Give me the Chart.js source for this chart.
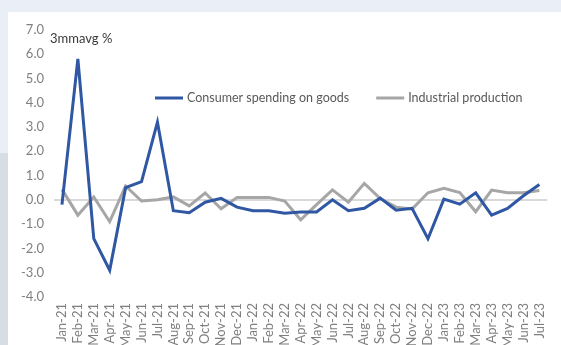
<!DOCTYPE html>
<html>
<head>
<meta charset="utf-8">
<script src="https://cdn.jsdelivr.net/npm/chart.js@4"></script>
<style>
  html, body { margin: 0; padding: 0; overflow: hidden; }
  body { width: 561px; height: 345px; background: #e9eef7; position: relative; }
  #side { position: absolute; left: 0; top: 153px; width: 8px; height: 192px; background: #d6dde5; }
  #card { position: absolute; left: 8px; top: 12px; width: 553px; height: 345px; background: #fff; }
</style>
</head>
<body>
<div id="side"></div>
<div id="card"><canvas id="grafico" width="553" height="345"></canvas></div>
<script>
// Meses (Jan-21 a Jul-23)
const meses = ['Jan-21', 'Feb-21', 'Mar-21', 'Apr-21', 'May-21', 'Jun-21', 'Jul-21', 'Aug-21', 'Sep-21', 'Oct-21', 'Nov-21', 'Dec-21',
    'Jan-22', 'Feb-22', 'Mar-22', 'Apr-22', 'May-22', 'Jun-22', 'Jul-22', 'Aug-22', 'Sep-22', 'Oct-22', 'Nov-22', 'Dec-22',
    'Jan-23', 'Feb-23', 'Mar-23', 'Apr-23', 'May-23', 'Jun-23', 'Jul-23'];

// Media movel de 3 meses, %
const consumo = [-0.2, 5.8, -1.6, -2.9, 0.5, 0.75, 3.2, -0.45, -0.53, -0.1, 0.06, -0.3,
    -0.45, -0.45, -0.55, -0.5, -0.5, 0.0, -0.45, -0.35, 0.07, -0.43, -0.35, -1.6,
    0.03, -0.18, 0.29, -0.63, -0.35, 0.17, 0.63];

const industria = [0.43, -0.63, 0.12, -0.9, 0.57, -0.05, 0.0, 0.12, -0.25, 0.28, -0.37, 0.1,
    0.1, 0.1, -0.05, -0.82, -0.2, 0.41, -0.1, 0.68, 0.05, -0.3, -0.38, 0.29,
    0.47, 0.3, -0.49, 0.4, 0.29, 0.29, 0.38];

const ticksY = [-4, -3, -2, -1, 0, 1, 2, 3, 4, 5, 6, 7];

const fonte = 'Lato, "Open Sans", sans-serif';

// Legenda e titulo desenhados dentro da area do grafico
const legendaInterna = {
    id: 'legendaInterna',
    afterDraw(chart) {
        const ctx = chart.ctx;
        ctx.save();
        ctx.textBaseline = 'middle';
        ctx.textAlign = 'left';

        ctx.font = '13px ' + fonte;
        ctx.fillStyle = '#3a3a3a';
        ctx.fillText('3mmavg %', 42, 27);

        ctx.font = '12.5px ' + fonte;
        let x = 147;
        const y = 86;
        chart.data.datasets.forEach(ds => {
            ctx.strokeStyle = ds.borderColor;
            ctx.lineWidth = 3;
            ctx.beginPath();
            ctx.moveTo(x, y);
            ctx.lineTo(x + 28, y);
            ctx.stroke();
            ctx.fillStyle = '#595959';
            ctx.fillText(ds.label, x + 32, y);
            x += 32 + ctx.measureText(ds.label).width + 27;
        });
        ctx.restore();
    }
};

const ctx = document.getElementById('grafico').getContext('2d');
const grafico = new Chart(ctx, {
    type: 'line',
    data: {
        labels: meses,
        datasets: [{
            label: 'Consumer spending on goods',
            data: consumo,
            borderColor: '#2f57a3',
            borderWidth: 3,
            pointRadius: 0,
            tension: 0
        }, {
            label: 'Industrial production',
            data: industria,
            borderColor: '#a6a6a6',
            borderWidth: 3,
            pointRadius: 0,
            tension: 0
        }]
    },
    options: {
        responsive: false,
        animation: false,
        layout: { padding: { top: 17, right: 3, left: 0, bottom: 0 } },
        plugins: {
            legend: { display: false },
            tooltip: { enabled: false }
        },
        scales: {
            x: {
                offset: true,
                grid: { display: false, drawTicks: false },
                border: { display: false },
                afterFit: s => { s.height = 60; },
                ticks: {
                    autoSkip: false,
                    maxRotation: 90,
                    minRotation: 90,
                    padding: 6,
                    color: '#7f7f7f',
                    font: { size: 13, family: fonte }
                }
            },
            y: {
                min: -4,
                max: 7,
                afterFit: s => { s.width = 46; },
                afterBuildTicks: s => { s.ticks = ticksY.map(v => ({ value: v })); },
                grid: {
                    drawTicks: false,
                    color: c => c.tick && c.tick.value === 0 ? '#d9d9d9' : 'rgba(0,0,0,0)',
                    lineWidth: 2
                },
                border: { display: false },
                ticks: {
                    padding: 10,
                    color: '#7f7f7f',
                    font: { size: 13, family: fonte },
                    callback: v => v.toFixed(1)
                }
            }
        }
    },
    plugins: [legendaInterna]
});
</script>
</body>
</html>
